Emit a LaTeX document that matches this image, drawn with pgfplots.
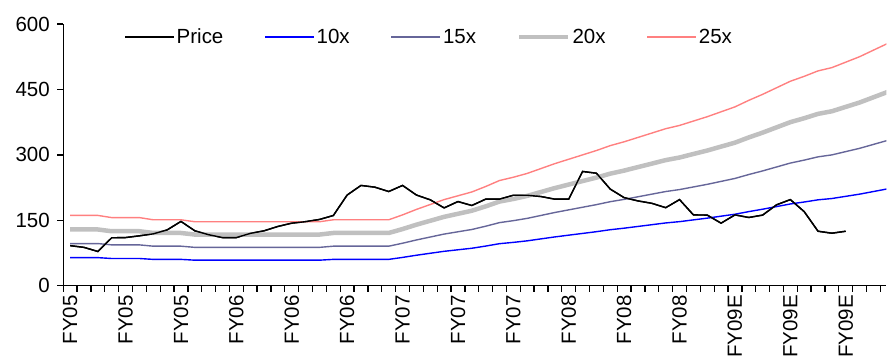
\documentclass[border=0pt]{standalone}
\usepackage{fontspec}
\setmainfont{Liberation Sans}
\usepackage{pgfplots}
\usepackage{pgfplotstable}
\pgfplotsset{compat=1.18}
\pgfkeys{/pgf/number format/assume math mode=true}
\definecolor{c10}{RGB}{0,0,255}
\definecolor{c15}{RGB}{102,102,153}
\definecolor{c20}{RGB}{192,192,192}
\definecolor{c25}{RGB}{255,128,128}
\pgfplotstableread{
x price m10 m15 m20 m25
0 92 64.5 96.75 129 161.25
1 88 64.5 96.75 129 161.25
2 78.6 64.5 96.75 129 161.25
3 110 62.5 93.75 125 156.25
4 110.5 62.5 93.75 125 156.25
5 114.5 62.5 93.75 125 156.25
6 119 60.5 90.75 121 151.25
7 128 60.5 90.75 121 151.25
8 147.5 60.5 90.75 121 151.25
9 126 58.7 88.05 117.4 146.75
10 117 58.7 88.05 117.4 146.75
11 110.5 58.7 88.05 117.4 146.75
12 110.5 58.7 88.05 117.4 146.75
13 120 58.7 88.05 117.4 146.75
14 126 58.7 88.05 117.4 146.75
15 136 58.7 88.05 117.4 146.75
16 143.5 58.7 88.05 117.4 146.75
17 147 58.7 88.05 117.4 146.75
18 152 58.7 88.05 117.4 146.75
19 161 60.5 90.75 121 151.25
20 208 60.5 90.75 121 151.25
21 230 60.5 90.75 121 151.25
22 226 60.5 90.75 121 151.25
23 216 60.5 90.75 121 151.25
24 230 65 97.5 130 162.5
25 208 70 105 140 175
26 197 74.5 111.75 149 186.25
27 178.5 79 118.5 158 197.5
28 193 82.5 123.75 165 206.25
29 184 86 129 172 215
30 198.5 91 136.5 182 227.5
31 198.5 96.5 144.75 193 241.25
32 207.5 99.5 149.25 199 248.75
33 207.5 103 154.5 206 257.5
34 204.5 107.5 161.25 215 268.75
35 198.5 112 168 224 280
36 198.5 116 174 232 290
37 262 120 180 240 300
38 258 124 186 248 310
39 221.5 128.5 192.75 257 321.25
40 202 132 198 264 330
41 194.5 136 204 272 340
42 189 140 210 280 350
43 179 144 216 288 360
44 197.5 147 220.5 294 367.5
45 162.5 151 226.5 302 377.5
46 162 155 232.5 310 387.5
47 143.5 159.5 239.25 319 398.75
48 162.5 164 246 328 410
49 156.5 170 255 340 425
50 162 175.5 263.25 351 438.75
51 185.5 181.5 272.25 363 453.75
52 197.5 187.5 281.25 375 468.75
53 170 192 288 384 480
54 125 197 295.5 394 492.5
55 120.5 200 300 400 500
56 125 205 307.5 410 512.5
57 nan 210 315 420 525
58 nan 216 324 432 540
59 nan 222 333 444 555
}\data
\begin{document}
\begin{tikzpicture}
\path (-63.3pt,-74pt) rectangle (823.7pt,286pt);
\begin{axis}[
  at={(0pt,0pt)}, anchor=south west,
  scale only axis, width=823.7pt, height=262pt,
  xmin=-0.5, xmax=58.93, ymin=0, ymax=600,
  axis lines=left,
  axis line style={line width=1.4pt, black, -},
  xtick={-0.5,0.5,...,58.5},
  xticklabels={FY05,,,,FY05,,,,FY05,,,,FY06,,,,FY06,,,,FY06,,,,FY07,,,,FY07,,,,FY07,,,,FY08,,,,FY08,,,,FY08,,,,FY09E,,,,FY09E,,,,FY09E},
  ytick={0,150,300,450,600},
  tick align=outside, major tick length=6pt,
  tick style={draw=black, line width=1.3pt},
  xticklabel style={overlay, xshift=6.93pt, rotate=90, anchor=east, font=\fontsize{20.5}{24}\selectfont},
  yticklabel style={overlay, font=\fontsize{20.5}{24}\selectfont},
  yticklabel shift=4pt,
  legend columns=5,
  legend cell align=left,
  legend image code/.code={\draw[#1] (0pt,0pt) -- (49pt,0pt);},
  legend style={draw=none, fill=none, inner sep=0pt, at={(0.074,0.950)}, anchor=west,
    font=\fontsize{20.5}{24}\selectfont,
    /tikz/every even column/.append style={column sep=39pt}},
]
\addplot[black, line width=1.4pt] table[x=x, y=price] {\data};
\addlegendentry{Price}
\addplot[c10, line width=1.4pt] table[x=x, y=m10] {\data};
\addlegendentry{10x}
\addplot[c15, line width=1.4pt] table[x=x, y=m15] {\data};
\addlegendentry{15x}
\addplot[c20, line width=4.5pt] table[x=x, y=m20] {\data};
\addlegendentry{20x}
\addplot[c25, line width=1.4pt] table[x=x, y=m25] {\data};
\addlegendentry{25x}
\addplot[black, line width=1.4pt, forget plot] table[x=x, y=price] {\data};
\end{axis}
\end{tikzpicture}
\end{document}
